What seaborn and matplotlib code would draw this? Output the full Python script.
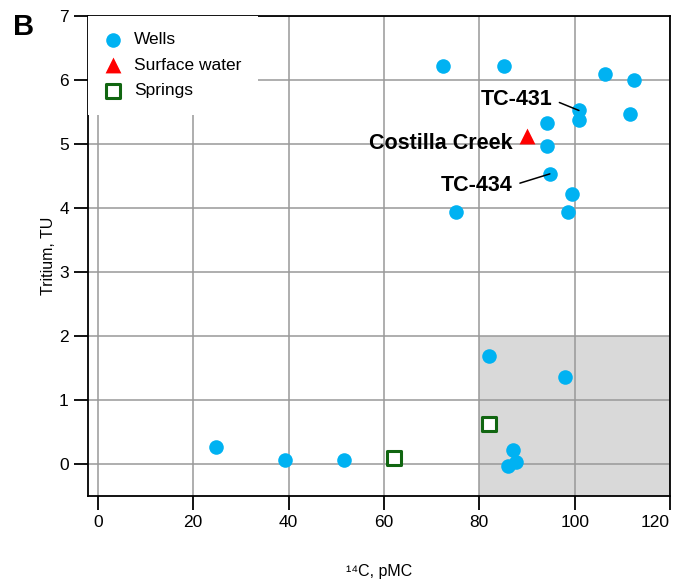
import matplotlib
matplotlib.use("Agg")
import matplotlib.pyplot as plt
from matplotlib.patches import Rectangle
import seaborn as sns
import pandas as pd

# ---- data ----
wells_c14 = [72.3, 85.2, 106.4, 112.4, 100.9, 100.9, 111.7, 94.1, 94.1, 94.8,
             99.4, 98.7, 75.2, 82.1, 97.9, 24.7, 39.3, 51.6, 87.1, 87.8, 86.0]
wells_tu = [6.22, 6.22, 6.09, 6.00, 5.52, 5.375, 5.47, 5.32, 4.96, 4.53,
            4.22, 3.93, 3.93, 1.69, 1.355, 0.27, 0.06, 0.06, 0.22, 0.03, -0.03]
surface_c14 = [90.0]
surface_tu = [5.12]
springs_c14 = [62.1, 82.1]
springs_tu = [0.10, 0.62]

labels = ["TC-431", "TC-434", "Costilla Creek"]
label_points = [(100.9, 5.52), (94.8, 4.53), (90.0, 5.12)]
label_text_pos = [(95.3, 5.69), (87.0, 4.35), (87.0, 5.0)]

x_ticks = [0, 20, 40, 60, 80, 100, 120]
y_ticks = [0, 1, 2, 3, 4, 5, 6, 7]
shade_x = (80, 120)
shade_y = (-0.5, 2)

wells = pd.DataFrame({"c14": wells_c14, "tu": wells_tu})
surface = pd.DataFrame({"c14": surface_c14, "tu": surface_tu})
springs = pd.DataFrame({"c14": springs_c14, "tu": springs_tu})

sns.set_theme(style="white")
plt.rcParams["font.family"] = ["Liberation Sans", "DejaVu Sans"]
plt.rcParams["text.color"] = "black"
plt.rcParams["axes.labelcolor"] = "black"
plt.rcParams["xtick.color"] = "black"
plt.rcParams["ytick.color"] = "black"

fig = plt.figure(figsize=(6.8, 5.82), dpi=100)
ax = fig.add_axes([88.3 / 680, 1 - 496 / 582, (670 - 88.3) / 680, (496 - 15.7) / 582])

ax.add_patch(Rectangle((shade_x[0], shade_y[0]), shade_x[1] - shade_x[0],
                       shade_y[1] - shade_y[0], facecolor="#d9d9d9",
                       edgecolor="none", zorder=0.2))

sns.scatterplot(data=wells, x="c14", y="tu", ax=ax, color="#00b2f2", marker="o",
                s=110, linewidth=0, label="Wells", zorder=3)
sns.scatterplot(data=surface, x="c14", y="tu", ax=ax, color="#ff0000", marker="^",
                s=130, linewidth=0, label="Surface water", zorder=3)
sns.scatterplot(data=springs, x="c14", y="tu", ax=ax, marker="s", s=95,
                facecolor="white", edgecolor="#116611", linewidth=2.2,
                label="Springs", zorder=3)

ax.set_xlim(-2, 120)
ax.set_ylim(-0.5, 7)
ax.set_xticks(x_ticks)
ax.set_yticks(y_ticks)
ax.grid(True, color="#999999", linewidth=1.1, zorder=0.5)
ax.set_axisbelow(True)
for sp in ax.spines.values():
    sp.set_color("black")
    sp.set_linewidth(1.3)
ax.tick_params(axis="both", direction="out", length=10, width=1.3, color="black",
               labelsize=12.5, pad=4, bottom=True, left=True, labelcolor="black")
xlabels = ax.get_xticklabels()
xlabels[-1].set_horizontalalignment("right")
xlabels[-1].set_x(xlabels[-1].get_position()[0])

ax.set_xlabel("\u00b9\u2074C, pMC", fontsize=11.5, labelpad=24, color="black")
ax.set_ylabel("Tritium, TU", fontsize=11.5, labelpad=2, color="black")

for lab, pt, tp in zip(labels, label_points, label_text_pos):
    if lab == "Costilla Creek":
        ax.text(tp[0], tp[1], lab, ha="right", va="center", fontsize=15.5,
                fontweight="bold", zorder=4, color="black")
    else:
        ax.annotate(lab, xy=pt, xytext=tp, ha="right", va="center", fontsize=15.5,
                    fontweight="bold", zorder=4, color="black",
                    arrowprops=dict(arrowstyle="-", color="black", lw=1.1,
                                    relpos=(1, 0.5), shrinkA=3, shrinkB=0))

leg = ax.legend(loc="upper left", borderaxespad=0.0, frameon=True, fancybox=False,
                facecolor="white", edgecolor="none", framealpha=1, fontsize=12.5,
                labelspacing=0.6, handletextpad=0.7, borderpad=0.95,
                handlelength=1.0)
leg.set_zorder(5)
for t in leg.get_texts():
    t.set_color("black")

fig.text(13 / 680, 1 - 13 / 582, "B", fontsize=21, fontweight="bold",
         ha="left", va="top", color="black")

fig.savefig("out.png", dpi=100)
